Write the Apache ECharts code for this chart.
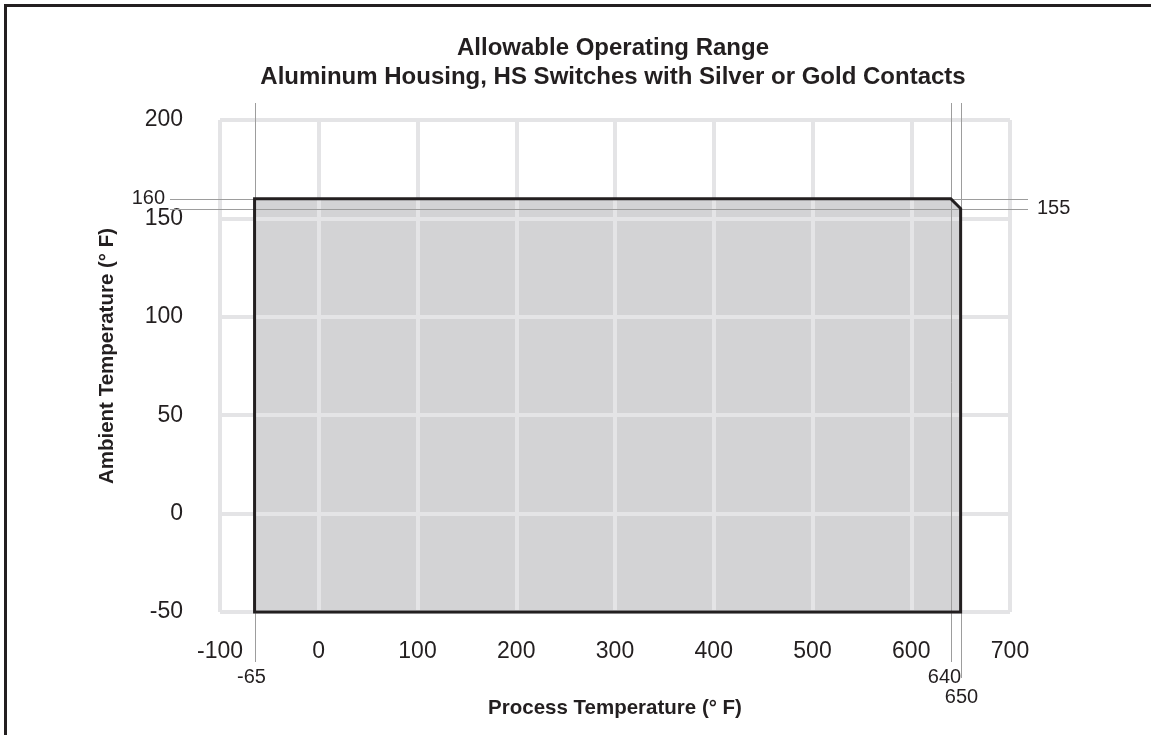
<!DOCTYPE html>
<html><head><meta charset="utf-8">
<script src="https://cdn.jsdelivr.net/npm/echarts@6/dist/echarts.min.js"></script>
<style>
html,body{margin:0;padding:0;background:#fff;overflow:hidden;}
#chart{width:1151px;height:735px;position:absolute;left:0;top:0;}
#frame{position:absolute;left:4px;top:4px;width:1300px;height:900px;border-left:3px solid #231f20;border-top:3px solid #231f20;pointer-events:none;}
</style></head><body>
<div id="chart"></div><div id="frame"></div>
<script>
// ---- data ----
const titleLines = ['Allowable Operating Range', 'Aluminum Housing, HS Switches with Silver or Gold Contacts'];
const xAxisName = 'Process Temperature (° F)';
const yAxisName = 'Ambient Temperature (° F)';
const xRange = [-100, 700];
const xStep = 100;
const yRange = [-50, 200];
const yStep = 50;
const boundaryX = [-65, -65, 640, 650, 650];
const boundaryY = [-50, 160, 160, 155, -50];
const refXValues = [-65, 640, 650];
const refYValues = [160, 155];

// ---- styling (pixel offsets, not data) ----
const INK = '#231f20';
const FONT = '"Liberation Sans", Arial, Helvetica, sans-serif';
const refColor = '#9d9d9d';
const refXStyle = [
  { below: 50, dx: -4, dy: 65 },
  { below: 50, dx: -7, dy: 65 },
  { below: 66, dx: 0, dy: 85 }
];
const refYStyle = [
  { side: 'left' },
  { side: 'right' }
];

const chart = echarts.init(document.getElementById('chart'), null, { renderer: 'canvas' });

function crisp(v) { return Math.round(v) + 0.5; }

const polyData = boundaryX.map((x, i) => [x, boundaryY[i]]);

const option = {
  animation: false,
  backgroundColor: '#ffffff',
  title: {
    text: titleLines.join('\n'),
    left: 613,
    top: 34,
    padding: 0,
    textAlign: 'center',
    textStyle: { fontFamily: FONT, fontSize: 24, fontWeight: 'bold', color: INK, lineHeight: 29 }
  },
  grid: { left: 220, right: 141, top: 120, bottom: 123, containLabel: false },
  xAxis: {
    type: 'value', min: xRange[0], max: xRange[1], interval: xStep, z: 3,
    name: xAxisName, nameLocation: 'middle', nameGap: 86,
    nameTextStyle: { fontFamily: FONT, fontSize: 20.5, fontWeight: 'bold', color: INK },
    axisLine: { show: false }, axisTick: { show: false },
    axisLabel: { fontFamily: FONT, fontSize: 23, color: INK, margin: 28 },
    splitLine: { show: true, lineStyle: { color: '#e4e4e6', width: 4 } }
  },
  yAxis: {
    type: 'value', min: yRange[0], max: yRange[1], interval: yStep, z: 3,
    name: yAxisName, nameLocation: 'middle', nameGap: 102, nameRotate: 90,
    nameTextStyle: { fontFamily: FONT, fontSize: 20.5, fontWeight: 'bold', color: INK, padding: [0, 0, 0, 20] },
    axisLine: { show: false }, axisTick: { show: false },
    axisLabel: { fontFamily: FONT, fontSize: 23, color: INK, margin: 37 },
    splitLine: { show: true, lineStyle: { color: '#e4e4e6', width: 4 } }
  },
  series: [
    {
      type: 'custom', z: 1, clip: false, silent: true,
      data: polyData,
      renderItem: function (params, api) {
        if (params.dataIndex !== 0) return null;
        const pts = boundaryX.map((x, i) => api.coord([x, boundaryY[i]]));
        return { type: 'polygon', shape: { points: pts }, style: { fill: '#d3d3d5', stroke: null } };
      }
    },
    {
      type: 'custom', z: 5, clip: false, silent: true,
      data: refXValues.map(v => [v, yRange[0]]),
      renderItem: function (params, api) {
        const i = params.dataIndex;
        const v = refXValues[i];
        const st = refXStyle[i];
        const x = crisp(api.coord([v, yRange[0]])[0]);
        const yTop = api.coord([v, yRange[1]])[1] - 17;
        const yBot = api.coord([v, yRange[0]])[1];
        return {
          type: 'group', children: [
            { type: 'line', shape: { x1: x, y1: yTop, x2: x, y2: yBot + st.below }, style: { stroke: refColor, lineWidth: 1 } },
            { type: 'text', style: { text: String(v), x: x + st.dx, y: yBot + st.dy, align: 'center', verticalAlign: 'middle', fill: INK, fontFamily: FONT, fontSize: 20 } }
          ]
        };
      }
    },
    {
      type: 'custom', z: 5, clip: false, silent: true,
      data: refYValues.map(v => [xRange[0], v]),
      renderItem: function (params, api) {
        const i = params.dataIndex;
        const v = refYValues[i];
        const st = refYStyle[i];
        const y = crisp(api.coord([xRange[0], v])[1]);
        const xL = api.coord([xRange[0], v])[0];
        const xR = api.coord([xRange[1], v])[0];
        const txt = st.side === 'left'
          ? { text: String(v), x: xL - 55, y: y - 1, align: 'right', verticalAlign: 'middle', fill: INK, fontFamily: FONT, fontSize: 20 }
          : { text: String(v), x: xR + 27, y: y - 1, align: 'left', verticalAlign: 'middle', fill: INK, fontFamily: FONT, fontSize: 20 };
        return {
          type: 'group', children: [
            { type: 'line', shape: { x1: xL - 50, y1: y, x2: xR + 18, y2: y }, style: { stroke: refColor, lineWidth: 1 } },
            { type: 'text', style: txt }
          ]
        };
      }
    },
    {
      type: 'custom', z: 6, clip: false, silent: true,
      data: polyData,
      renderItem: function (params, api) {
        if (params.dataIndex !== 0) return null;
        const pts = boundaryX.map((x, i) => api.coord([x, boundaryY[i]]));
        return { type: 'polygon', shape: { points: pts }, style: { fill: null, stroke: INK, lineWidth: 3, lineJoin: 'miter' } };
      }
    }
  ]
};
chart.setOption(option);
</script>
</body></html>
